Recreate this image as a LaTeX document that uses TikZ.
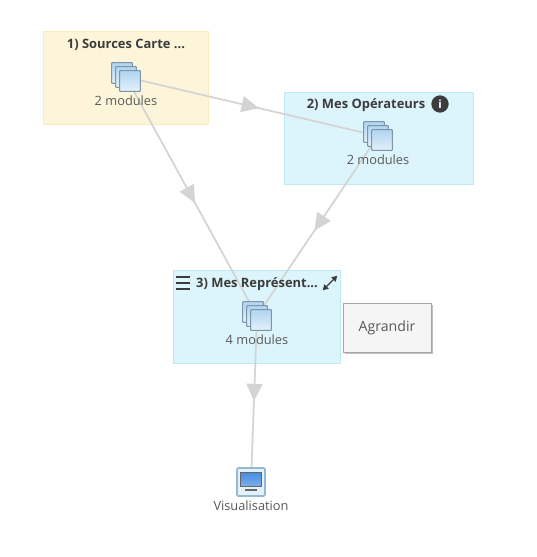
\documentclass[tikz,border=0pt]{standalone}
\usepackage{fontspec}
\setmainfont{Open Sans}
\usepackage{xcolor}
\usetikzlibrary{positioning,arrows.meta,backgrounds,calc,decorations.markings,shadows}
\definecolor{sandbox}{RGB}{253,245,217}
\definecolor{sandline}{RGB}{250,235,190}
\definecolor{skybox}{RGB}{220,244,251}
\definecolor{skyline}{RGB}{190,232,244}
\definecolor{edgegrey}{RGB}{212,212,212}
\definecolor{inkdark}{RGB}{60,60,60}
\definecolor{iconline}{RGB}{125,150,170}
\definecolor{sheettop}{RGB}{176,212,240}
\definecolor{sheetlow}{RGB}{228,240,250}
\definecolor{screenblue}{RGB}{70,140,225}
\definecolor{frameblue}{RGB}{150,185,210}
\tikzset{
  grpbox/.style ={draw=#1line,fill=#1box,line width=.6pt,inner sep=0pt},
  grptitle/.style={font=\fontsize{9.7}{11}\selectfont\bfseries,text=inkdark,inner sep=0pt},
  modlabel/.style={font=\fontsize{9.6}{11}\selectfont,text=black!65,inner sep=0pt},
  sheet/.style  ={draw=iconline,line width=.8pt,rounded corners=.5pt,minimum size=15.5pt,inner sep=0pt,top color=sheettop,bottom color=sheetlow},
  ar/.style     ={draw=edgegrey,line width=1.3pt,postaction={decorate},decoration={markings,mark=at position .53 with {\arrow[edgegrey]{Triangle[width=12pt,length=13pt]}}}},
}
\newcommand{\modstack}[2]{%
  \node[sheet] (#1b) at ($(#2)+(-4,-4)$) {};
  \node[sheet] (#1) at (#2) {};
  \node[sheet] (#1f) at ($(#2)+(4,4)$) {};
}
\begin{document}
\begin{tikzpicture}[x=.75pt,y=-.75pt]
\useasboundingbox (0,0) rectangle (536,557);
\begin{scope}[on background layer]
\fill[white] (0,0) rectangle (536,557);
\node[grpbox=sand,minimum width=123.75pt,minimum height=69.75pt] (grpa) at (125.5,77.5) {};
\node[grpbox=sky,minimum width=141.75pt,minimum height=69pt] (grpb) at (378.5,138) {};
\node[grpbox=sky,minimum width=125.25pt,minimum height=69.75pt] (grpc) at (256.5,316.5) {};
\end{scope}
% titles
\node[grptitle] (ta) at (126,45) {1) Sources Carte ...};
\node[grptitle] (tb) at (366,105) {2) Mes Opérateurs};
\node[grptitle] (tc) at (257,284) {3) Mes Représent...};
\node[circle,fill=inkdark,text=white,minimum size=13pt,inner sep=0pt,font=\fontsize{8.5}{8.5}\selectfont\bfseries] (info) at (440,104) {i};
% hamburger
\node[minimum width=10.5pt,minimum height=8.5pt,inner sep=0pt] (menu) at (183,283) {};
\draw[inkdark,line width=1.6pt] (menu.north west) -- (menu.north east);
\draw[inkdark,line width=1.6pt] (menu.west) -- (menu.east);
\draw[inkdark,line width=1.6pt] (menu.south west) -- (menu.south east);
% expand
\node[minimum size=10.5pt,inner sep=0pt] (grow) at (330,283) {};
\draw[inkdark,line width=.9pt,{Triangle[width=4.5pt,length=4pt]}-{Triangle[width=4.5pt,length=4pt]}] (grow.south west) -- (grow.north east);
% icons
\modstack{sa}{126,77}
\modstack{sb}{378,136}
\modstack{sc}{257,316}
\node[modlabel,below=6pt of sa] (la) {2 modules};
\node[modlabel,below=6pt of sb] (lb) {2 modules};
\node[modlabel,below=6pt of sc] (lc) {4 modules};
% screen
\node[draw=frameblue,fill=sheetlow,rounded corners=1pt,minimum size=21pt,inner sep=0pt,line width=1.4pt] (vis) at (251,482) {};
\node[top color=screenblue,bottom color=screenblue!70!white,draw=black!60,line width=.4pt,minimum width=16pt,minimum height=11pt,inner sep=0pt,yshift=2pt] (scr) at (vis) {};
\node[fill=black!60,minimum width=9pt,minimum height=1.2pt,inner sep=0pt,below=1.4pt of scr] (foot) {};
\node[modlabel,below=3pt of vis] (lv) {Visualisation};
% tooltip
\node[draw=black!35,fill=white!96!black,general shadow={shadow xshift=1.5pt,shadow yshift=-1.5pt,fill=black!25},minimum width=66pt,minimum height=36.75pt,inner sep=0pt,font=\fontsize{10.6}{12}\selectfont,text=black!65] (tip) at (387,327.5) {Agrandir};
% links
\begin{scope}[on background layer]
\draw[ar] (sa) -- (sb);
\draw[ar] (sa) -- (sc);
\draw[ar] (sb) -- (sc);
\draw[ar] (sc) -- (vis);
\end{scope}
\end{tikzpicture}
\end{document}
